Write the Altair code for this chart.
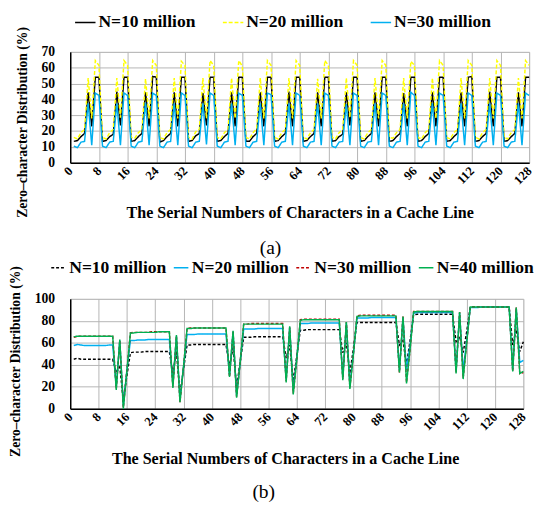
import altair as alt
import pandas as pd

FONT = "Liberation Serif"
positions = list(range(1, 129))
x_ticks = list(range(0, 129, 8))

# ---------------- panel (a) ----------------
a_labels = ["N=10 million", "N=20 million", "N=30 million"]
a_n10 = [
    13.5, 14.0, 16.5, 18.5, 44.5, 23.0, 54.0, 54.0,
    13.5, 14.0, 16.5, 18.0, 45.0, 23.5, 54.0, 54.0,
    13.5, 14.0, 16.5, 18.5, 44.5, 23.0, 54.5, 54.0,
    13.0, 14.0, 16.5, 18.5, 44.5, 23.0, 54.0, 54.0,
    13.5, 14.0, 17.0, 18.5, 44.0, 23.5, 54.0, 54.0,
    13.5, 14.0, 16.5, 18.5, 44.5, 23.0, 54.0, 54.0,
    13.5, 13.5, 16.5, 18.5, 44.5, 23.0, 54.0, 54.0,
    13.5, 14.0, 16.5, 18.5, 45.0, 23.0, 54.0, 54.0,
    13.5, 14.0, 16.5, 18.5, 44.5, 23.0, 54.0, 54.0,
    13.5, 14.0, 16.5, 18.0, 44.5, 23.5, 54.0, 54.0,
    13.5, 14.0, 16.5, 18.5, 44.5, 23.0, 54.0, 54.0,
    13.5, 14.0, 16.5, 18.5, 44.0, 23.0, 54.0, 54.0,
    13.5, 14.0, 16.5, 18.5, 44.5, 23.0, 54.0, 54.0,
    13.5, 14.0, 16.5, 18.5, 44.5, 23.0, 54.0, 54.5,
    13.5, 14.0, 16.5, 18.5, 45.0, 23.0, 54.0, 54.0,
    13.5, 14.0, 16.5, 18.5, 44.5, 23.0, 54.0, 54.0,
]
a_n20 = [
    16.0, 15.0, 19.0, 21.0, 53.5, 28.0, 64.5, 61.5,
    16.0, 15.0, 19.0, 21.0, 53.5, 28.5, 64.5, 61.5,
    16.0, 15.5, 19.0, 21.0, 53.0, 28.0, 64.5, 61.5,
    16.0, 15.0, 19.0, 21.0, 53.5, 28.0, 64.0, 61.5,
    16.0, 15.0, 19.5, 21.0, 53.5, 28.0, 64.5, 61.5,
    16.0, 15.0, 19.0, 21.0, 53.5, 28.0, 64.5, 61.0,
    16.0, 15.0, 19.0, 21.5, 53.5, 28.0, 64.5, 61.5,
    16.0, 15.0, 19.0, 21.0, 53.5, 28.0, 64.5, 61.5,
    16.0, 15.0, 19.0, 21.0, 53.0, 28.0, 64.5, 61.5,
    16.0, 15.0, 19.0, 21.0, 53.5, 28.5, 64.5, 61.5,
    16.0, 15.0, 19.0, 21.0, 53.5, 28.0, 64.5, 61.5,
    16.0, 15.5, 19.0, 21.0, 53.5, 28.0, 64.0, 61.5,
    16.0, 15.0, 19.0, 21.0, 53.5, 28.0, 64.5, 61.5,
    16.0, 15.0, 19.0, 21.0, 53.5, 28.0, 64.5, 61.5,
    16.0, 15.0, 19.0, 21.0, 53.5, 28.0, 64.5, 61.5,
    16.0, 15.0, 19.0, 21.0, 53.5, 28.0, 64.5, 61.5,
]
a_n30 = [
    10.5, 9.5, 13.0, 13.5, 37.5, 11.0, 44.0, 42.5,
    10.5, 9.5, 13.0, 13.5, 37.5, 11.0, 44.0, 42.5,
    10.5, 9.5, 13.0, 13.5, 38.0, 11.0, 44.0, 42.5,
    10.5, 9.5, 13.0, 13.5, 37.5, 11.0, 44.0, 42.5,
    10.5, 9.5, 13.0, 13.5, 37.5, 11.5, 44.0, 42.5,
    10.5, 9.5, 13.0, 13.5, 37.5, 11.0, 44.0, 42.5,
    10.5, 9.5, 13.0, 13.5, 37.5, 11.0, 44.0, 43.0,
    10.5, 9.5, 13.0, 13.5, 37.5, 11.0, 44.0, 42.5,
    10.5, 9.5, 13.0, 13.5, 37.5, 11.0, 44.0, 42.5,
    10.5, 9.5, 13.0, 13.5, 37.0, 11.0, 44.0, 42.5,
    10.5, 9.5, 13.0, 13.5, 37.5, 11.0, 44.0, 42.5,
    10.5, 9.5, 13.0, 13.5, 37.5, 11.0, 44.5, 42.5,
    10.5, 9.5, 13.0, 13.5, 37.5, 11.0, 44.0, 42.5,
    10.5, 9.5, 13.0, 13.5, 37.5, 11.0, 44.0, 42.5,
    10.5, 9.5, 13.0, 13.5, 37.5, 11.0, 44.0, 42.5,
    10.5, 9.5, 13.0, 13.5, 37.5, 11.0, 44.0, 42.5,
]

# ---------------- panel (b) ----------------
b_labels = ["N=10 million", "N=20 million", "N=30 million", "N=40 million"]
b_n10 = [
    45.0, 46.0, 45.0, 45.0, 45.0, 45.0, 45.0, 45.0, 45.0, 45.0, 45.0, 45.0, 33.0, 38.0, 8.0, 30.0,
    51.0, 51.5, 51.5, 51.5, 52.0, 52.0, 52.0, 52.0, 52.0, 52.0, 52.0, 52.0, 32.0, 52.0, 14.0, 36.0,
    58.0, 58.0, 58.5, 58.5, 58.5, 58.5, 58.5, 58.5, 58.5, 58.5, 58.5, 58.5, 38.0, 56.0, 20.0, 42.0,
    65.0, 65.0, 65.0, 65.5, 65.5, 65.5, 65.5, 65.5, 65.5, 65.5, 65.5, 65.5, 46.0, 58.0, 25.0, 48.0,
    71.5, 71.5, 72.0, 72.0, 72.0, 72.0, 72.0, 72.0, 72.0, 72.0, 72.0, 72.0, 51.0, 60.0, 32.0, 55.0,
    78.5, 78.5, 78.5, 78.5, 78.5, 78.5, 78.5, 78.5, 78.5, 78.5, 78.5, 78.5, 58.0, 62.0, 40.0, 62.0,
    85.5, 86.0, 86.0, 86.0, 86.0, 86.0, 86.0, 86.0, 86.0, 86.0, 86.0, 86.0, 61.0, 66.0, 51.0, 70.0,
    92.5, 92.5, 92.5, 92.5, 92.5, 92.5, 92.5, 92.5, 92.5, 92.5, 92.5, 92.5, 58.0, 72.0, 52.0, 61.0,
]
b_n20 = [
    57.5, 58.5, 58.0, 57.5, 57.5, 57.5, 57.5, 57.5, 57.5, 57.5, 58.0, 58.0, 20.0, 62.0, 3.0, 35.0,
    62.0, 62.0, 62.5, 62.5, 62.5, 63.0, 63.0, 63.0, 63.0, 63.0, 63.0, 63.0, 22.0, 66.0, 8.0, 38.0,
    67.5, 67.5, 67.5, 68.0, 68.0, 68.0, 68.0, 68.0, 68.0, 68.0, 68.0, 68.0, 30.0, 70.0, 12.0, 42.0,
    72.5, 72.5, 72.5, 72.5, 73.0, 73.0, 73.0, 73.0, 73.0, 73.0, 73.0, 73.0, 27.0, 74.0, 17.0, 46.0,
    77.5, 77.5, 77.5, 78.0, 78.0, 78.0, 78.0, 78.0, 78.0, 78.0, 78.0, 78.0, 29.0, 78.0, 22.0, 50.0,
    82.5, 82.5, 82.5, 82.5, 83.0, 83.0, 83.0, 83.0, 83.0, 83.0, 83.0, 83.0, 35.0, 83.0, 35.0, 58.0,
    87.0, 87.5, 87.5, 87.5, 87.5, 87.5, 87.5, 87.5, 87.5, 87.5, 87.5, 87.5, 35.0, 87.0, 35.0, 62.0,
    92.0, 92.0, 92.0, 92.5, 92.5, 92.5, 92.5, 92.5, 92.5, 92.5, 92.5, 92.5, 36.0, 91.0, 42.0, 44.0,
]
b_n30 = [
    65.0, 66.0, 66.0, 66.0, 66.0, 66.0, 66.0, 66.0, 66.0, 66.0, 66.0, 66.0, 18.0, 62.0, 1.0, 35.0,
    69.0, 69.5, 69.5, 69.5, 69.5, 69.5, 70.0, 70.0, 70.0, 70.0, 70.0, 70.0, 20.0, 66.0, 6.0, 38.0,
    73.0, 73.5, 73.5, 73.5, 73.5, 73.5, 73.5, 73.5, 73.5, 73.5, 73.5, 73.5, 29.0, 70.0, 11.0, 42.0,
    77.0, 77.0, 77.5, 77.5, 77.5, 77.5, 77.5, 77.5, 77.5, 77.5, 77.5, 77.5, 25.0, 74.0, 14.0, 45.0,
    81.0, 81.5, 81.5, 81.5, 81.5, 81.5, 81.5, 81.5, 81.5, 81.5, 81.5, 81.5, 27.0, 79.0, 19.0, 50.0,
    84.5, 85.0, 85.0, 85.0, 85.0, 85.0, 85.0, 85.0, 85.0, 85.0, 85.0, 85.0, 33.0, 84.0, 24.0, 54.0,
    88.5, 88.5, 88.5, 88.5, 88.5, 88.5, 88.5, 88.5, 88.5, 88.5, 88.5, 88.5, 33.0, 88.0, 28.0, 60.0,
    92.5, 92.5, 92.5, 92.5, 92.5, 92.5, 92.5, 92.5, 92.5, 92.5, 92.5, 92.5, 34.0, 92.0, 32.0, 33.0,
]
b_n40 = [
    65.5, 66.0, 66.0, 66.0, 66.0, 66.0, 66.0, 66.0, 66.0, 66.0, 66.0, 66.0, 17.0, 63.0, 0.0, 34.0,
    69.0, 69.0, 69.5, 69.5, 69.5, 69.5, 69.5, 69.5, 70.0, 70.0, 70.0, 70.0, 19.0, 67.0, 6.0, 38.0,
    73.0, 73.0, 73.5, 73.5, 73.5, 73.5, 73.5, 73.5, 73.5, 73.5, 73.5, 73.5, 29.0, 71.0, 10.0, 42.0,
    77.0, 77.0, 77.0, 77.0, 77.0, 77.0, 77.0, 77.0, 77.0, 77.0, 77.0, 77.0, 24.0, 75.0, 13.0, 45.0,
    80.5, 81.0, 81.0, 81.0, 81.0, 81.0, 81.0, 81.0, 81.0, 81.0, 81.0, 81.0, 26.0, 79.0, 18.0, 50.0,
    84.0, 84.5, 84.5, 84.5, 84.5, 84.5, 84.5, 84.5, 84.5, 84.5, 84.5, 84.5, 33.0, 84.0, 23.0, 54.0,
    88.0, 88.5, 88.5, 88.5, 88.5, 88.5, 88.5, 88.5, 88.5, 88.5, 88.5, 88.5, 32.0, 88.0, 27.0, 60.0,
    92.5, 92.5, 92.5, 92.5, 92.5, 92.5, 92.5, 92.5, 92.5, 92.5, 92.5, 92.5, 34.0, 92.0, 32.0, 34.0,
]


def to_long(labels, series):
    rows = []
    for lab, vals in zip(labels, series):
        for p, v in zip(positions, vals):
            rows.append({"pos": p, "val": v, "series": lab})
    return pd.DataFrame(rows)


Y_TITLE = "Zero\u2013character Distribution (%)"
X_TITLE = "The Serial Numbers of Characters in a Cache Line"


def panel(df, labels, colors, dashes, ymax, ystep, width, height,
          leg_x, leg_y, leg_font, sym_len, col_pad,
          ytitle_x, ytitle_y, xtitle_x, caption, cap_dx, cap_offset):
    leg = alt.Legend(
        title=None, orient="none", legendX=leg_x, legendY=leg_y,
        direction="horizontal", symbolType="stroke",
        symbolSize=sym_len * sym_len, symbolStrokeWidth=1.5,
        labelFont=FONT, labelFontSize=leg_font, labelFontWeight="bold",
        labelColor="black", columnPadding=col_pad, labelOffset=2,
        padding=0, labelLimit=0,
    )
    x = alt.X(
        "pos:Q",
        scale=alt.Scale(domain=[0, 128], nice=False, zero=False),
        axis=alt.Axis(
            values=x_ticks, labelAngle=-45, labelAlign="right", labelBaseline="middle",
            labelFont=FONT, labelFontSize=13, labelFontWeight="bold", labelColor="black",
            labelPadding=6, labelOverlap=False, labelFlush=False, ticks=False,
            domainColor="black", domainWidth=1.5,
            gridColor="#b4b4b4", gridWidth=1,
            title=X_TITLE, titleFont=FONT, titleFontSize=16.5, titleFontWeight="bold",
            titleColor="black", titleX=xtitle_x, titleY=51, titleBaseline="middle",
            titleAlign="center",
        ),
    )
    y = alt.Y(
        "val:Q",
        scale=alt.Scale(domain=[0, ymax], nice=False),
        axis=alt.Axis(
            values=list(range(0, ymax + 1, ystep)),
            labelFont=FONT, labelFontSize=14, labelFontWeight="bold", labelColor="black",
            labelPadding=16, ticks=False, domainColor="black", domainWidth=1.5,
            gridColor="#b4b4b4", gridWidth=1,
            title=Y_TITLE, titleFont=FONT, titleFontSize=14, titleFontWeight="bold",
            titleColor="black", titleX=ytitle_x, titleY=ytitle_y,
            titleBaseline="middle", titleAlign="center", titleAngle=270,
        ),
    )
    return alt.Chart(df).mark_line(strokeWidth=1.5).encode(
        x=x,
        y=y,
        color=alt.Color("series:N", scale=alt.Scale(domain=labels, range=colors), legend=leg),
        strokeDash=alt.StrokeDash("series:N", scale=alt.Scale(domain=labels, range=dashes), legend=leg),
    ).properties(
        width=width, height=height,
        title=alt.TitleParams(
            caption, orient="bottom", anchor="middle", frame="group",
            font=FONT, fontSize=20, fontWeight="normal", color="black",
            dx=cap_dx, offset=cap_offset,
        ),
    )


df_a = to_long(a_labels, [a_n10, a_n20, a_n30])
df_b = to_long(b_labels, [b_n10, b_n20, b_n30, b_n40])

chart_a = panel(
    df_a, a_labels, ["#000000", "#FFFF00", "#00B0F0"], [[1, 0], [4, 2], [1, 0]],
    70, 10, 472, 114,
    leg_x=4, leg_y=-42, leg_font=18, sym_len=21, col_pad=25,
    ytitle_x=-49, ytitle_y=72, xtitle_x=236, caption="(a)", cap_dx=-30, cap_offset=18,
)
chart_b = panel(
    df_b, b_labels, ["#000000", "#00B0F0", "#C00000", "#00B050"],
    [[3, 2], [1, 0], [3, 2], [1, 0]],
    100, 20, 466, 113,
    leg_x=-21, leg_y=-41, leg_font=18, sym_len=15, col_pad=4,
    ytitle_x=-56, ytitle_y=64, xtitle_x=221, caption="(b)", cap_dx=-34, cap_offset=16,
)

chart = alt.concat(chart_a, chart_b, columns=1, spacing=0, align="none").resolve_scale(
    x="independent", y="independent", color="independent", strokeDash="independent"
).resolve_legend(
    color="independent", strokeDash="independent"
).properties(
    padding={"top": -5, "left": 0, "right": 0, "bottom": 0}
).configure_view(
    stroke="#808080", strokeWidth=1
).configure(background="white")

chart.save("out.html", embed_options={"renderer": "svg", "actions": False})
